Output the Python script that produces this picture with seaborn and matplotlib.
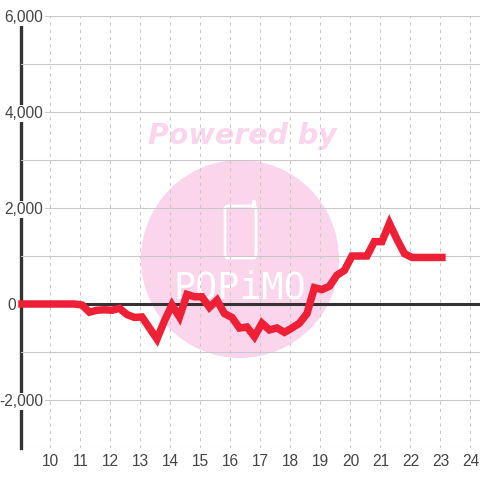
import matplotlib
matplotlib.use("Agg")
import matplotlib.pyplot as plt
from matplotlib.patches import Circle, FancyBboxPatch
import pandas as pd
import seaborn as sns

# readings every 15 minutes, 9:00 to 23:00 (points sit just right of the hour ticks)
hours = [9.05 + i * 0.25 for i in range(57)]
values = [0, 0, 0, 0, 0, 0, 0, 0,
          -20, -170, -130, -120, -130, -90, -220, -280,
          -270, -500, -730, -350, -20, -270, 200, 150,
          150, -70, 80, -200, -280, -500, -480, -680,
          -400, -540, -500, -590, -500, -400, -200, 340,
          300, 370, 600, 700, 1000, 1000, 1000, 1300,
          1300, 1680, 1350, 1050, 970, 970, 970, 970, 970]

label_ticks = [-2000, 0, 2000, 4000, 6000]
x_ticks = list(range(10, 25))
y_grid = list(range(-3000, 6001, 1000))
PINK = "#fbd5ec"

sns.set_theme(style="white")
plt.rcParams["font.family"] = ["Liberation Sans", "DejaVu Sans"]

df = pd.DataFrame({"hour": hours, "value": values})

fig = plt.figure(figsize=(4.8, 4.8), dpi=100)
ax = fig.add_axes([20.5 / 480, 32 / 480, 459.5 / 480, 432 / 480])
ax.patch.set_alpha(0)

# watermark sits behind the axes, in pixel positions
wm = fig.add_axes([0, 0, 1, 1], zorder=-1)
wm.set_xlim(0, 480)
wm.set_ylim(480, 0)
wm.axis("off")
wm.add_patch(Circle((240, 259), 99, color=PINK, lw=0))
wm.text(242, 136, "Powered by", color=PINK, fontsize=20.5, fontweight="bold",
        style="italic", ha="center", va="center", fontfamily="DejaVu Sans")
wm.add_patch(FancyBboxPatch((225, 206), 31, 52, boxstyle="round,pad=0,rounding_size=3",
                            fc="none", ec="white", lw=2))
wm.plot([254, 254], [202, 207], color="white", lw=3, solid_capstyle="round")
wm.text(240, 288, "POPiMO", color="white", fontsize=26.5, ha="center", va="center",
        fontfamily="DejaVu Sans Mono")

sns.lineplot(data=df, x="hour", y="value", ax=ax, color="#ee2036", linewidth=5.4,
             errorbar=None, zorder=5, solid_capstyle="projecting", solid_joinstyle="miter",
             clip_on=False)

ax.set_xlim(9, 24.32)
ax.set_ylim(-3000, 6000)
ax.set_xlabel("")
ax.set_ylabel("")
ax.set_xticks(x_ticks)
ax.set_yticks(y_grid)
ax.set_yticklabels([f"{v:,}" if v in label_ticks else "" for v in y_grid])
ax.grid(axis="y", color="#c8c8c8", lw=0.75, ls="-")
ax.grid(axis="x", color="#c8c8c8", lw=0.75, ls=(0, (3, 4)))
ax.set_axisbelow("line")

for side in ["top", "right", "bottom"]:
    ax.spines[side].set_visible(False)
ax.spines["left"].set_color("#333333")
ax.spines["left"].set_linewidth(2.4)
ax.spines["left"].set_zorder(1)
ax.axhline(0, color="#333333", lw=2.2, zorder=3)

ax.tick_params(axis="both", length=0, labelsize=11.2, labelcolor="#444444")
ax.tick_params(axis="x", pad=4)
ax.tick_params(axis="y", pad=-16.5)
for tick, v in zip(ax.yaxis.get_major_ticks(), y_grid):
    if v == 0:
        # the zero label sits outside the axis line
        tick.set_pad(3.2)
    elif v in label_ticks:
        tick.label1.set_bbox(dict(fc="white", ec="none", pad=1))

fig.savefig("out.png", dpi=100)
